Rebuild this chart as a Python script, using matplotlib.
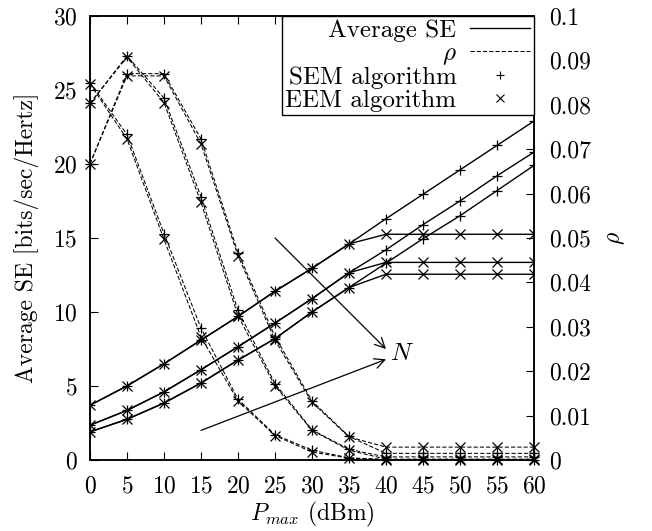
"""
Average SE and rho versus P_max for the SEM and EEM algorithms,
three network sizes N, gnuplot/LaTeX look.
"""

import matplotlib
matplotlib.use("Agg")
import matplotlib.pyplot as plt
from matplotlib.lines import Line2D
from matplotlib.ticker import FuncFormatter

# -----------------------------------------------------------------------------
# 1. DATA
# -----------------------------------------------------------------------------
p_max = [0, 5, 10, 15, 20, 25, 30, 35, 40, 45, 50, 55, 60]

# average SE [bits/sec/Hertz], three values of N
se_sem_n1 = [3.7, 5.0, 6.5, 8.1, 9.7, 11.4, 12.95, 14.6, 16.3, 17.95, 19.6, 21.25, 22.9]
se_eem_n1 = [3.7, 5.0, 6.5, 8.1, 9.7, 11.4, 12.95, 14.6, 15.25, 15.25, 15.25, 15.25, 15.25]
se_sem_n2 = [2.35, 3.35, 4.6, 6.1, 7.65, 9.25, 10.9, 12.65, 14.2, 15.9, 17.5, 19.2, 20.8]
se_eem_n2 = [2.35, 3.35, 4.6, 6.1, 7.65, 9.25, 10.9, 12.65, 13.35, 13.35, 13.35, 13.35, 13.35]
se_sem_n3 = [1.9, 2.75, 3.85, 5.2, 6.75, 8.2, 10.0, 11.65, 13.3, 14.95, 16.5, 18.2, 19.9]
se_eem_n3 = [1.9, 2.75, 3.85, 5.2, 6.75, 8.2, 10.0, 11.65, 12.55, 12.55, 12.55, 12.55, 12.55]

# rho (right axis)
rho_sem_a = [0.0850, 0.0733, 0.0510, 0.0297, 0.0137, 0.0057, 0.0022, 0.0005, 0.0001, 0.0001, 0.0001, 0.0001, 0.0001]
rho_eem_a = [0.0847, 0.0723, 0.0497, 0.0277, 0.0133, 0.0055, 0.0018, 0.0004, 0.0001, 0.0001, 0.0001, 0.0001, 0.0001]
rho_sem_b = [0.0803, 0.0910, 0.0815, 0.0593, 0.0337, 0.0172, 0.0068, 0.0024, 0.0007, 0.0007, 0.0007, 0.0007, 0.0007]
rho_eem_b = [0.0803, 0.0907, 0.0805, 0.0580, 0.0325, 0.0167, 0.0067, 0.0022, 0.0002, 0.0002, 0.0002, 0.0002, 0.0002]
rho_sem_c = [0.0667, 0.0870, 0.0870, 0.0723, 0.0467, 0.0278, 0.0133, 0.0053, 0.0015, 0.0015, 0.0015, 0.0015, 0.0015]
rho_eem_c = [0.0667, 0.0865, 0.0865, 0.0712, 0.0460, 0.0270, 0.0130, 0.0052, 0.0029, 0.0029, 0.0029, 0.0029, 0.0029]

x_ticks = list(range(0, 61, 5))
se_ticks = list(range(0, 31, 5))
rho_ticks = [0, 0.01, 0.02, 0.03, 0.04, 0.05, 0.06, 0.07, 0.08, 0.09, 0.1]

legend_labels = ["Average SE", r"$\rho$", "SEM algorithm", "EEM algorithm"]

# annotation arrows pointing to the "N" label
arrow_tip_upper = (40.0, 7.5)
arrow_tail_upper = (25.0, 15.0)
arrow_tip_lower = (40.0, 6.8)
arrow_tail_lower = (15.0, 2.0)
n_label_pos = (40.6, 7.15)

# -----------------------------------------------------------------------------
# 2. STYLE
# -----------------------------------------------------------------------------
plt.rcParams["font.family"] = "serif"
plt.rcParams["font.serif"] = ["cmr10", "DejaVu Serif"]
plt.rcParams["mathtext.fontset"] = "cm"
plt.rcParams["axes.formatter.use_mathtext"] = True
plt.rcParams["font.size"] = 17

SOLID = dict(color="black", linestyle="-", linewidth=1.0, markersize=7,
             markeredgewidth=0.9)
DASHED = dict(color="black", linestyle=(0, (4, 2)), linewidth=0.75,
              markersize=7, markeredgewidth=0.9)


def plot_chart(output_file="out.png"):
    fig = plt.figure(figsize=(6.52, 5.31), dpi=100)
    ax = fig.add_axes([0.138, 0.1337, 0.681, 0.8363])
    ax2 = ax.twinx()

    # SE curves
    for sem, eem in [(se_sem_n1, se_eem_n1), (se_sem_n2, se_eem_n2),
                     (se_sem_n3, se_eem_n3)]:
        ax.plot(p_max, sem, marker="+", **SOLID)
        ax.plot(p_max, eem, marker="x", **SOLID)

    # rho curves
    for sem, eem in [(rho_sem_a, rho_eem_a), (rho_sem_b, rho_eem_b),
                     (rho_sem_c, rho_eem_c)]:
        ax2.plot(p_max, sem, marker="+", clip_on=False, **DASHED)
        ax2.plot(p_max, eem, marker="x", clip_on=False, **DASHED)

    ax.set_xlim(0, 60)
    ax.set_ylim(0, 30)
    ax2.set_ylim(0, 0.1)
    ax.set_xticks(x_ticks)
    ax.set_yticks(se_ticks)
    ax2.set_yticks(rho_ticks)
    ax2.yaxis.set_major_formatter(FuncFormatter(lambda v, _: f"{v:g}"))

    ax.tick_params(axis="x", direction="in", length=6, width=0.8,
                   top=True, pad=11)
    ax.tick_params(axis="y", direction="in", length=6, width=0.8,
                   right=False, pad=9)
    ax2.tick_params(axis="y", direction="in", length=6, width=0.8, pad=11)
    for a in (ax, ax2):
        for sp in a.spines.values():
            sp.set_linewidth(1.1)

    ax.set_xlabel(r"$P_{max}$ (dBm)", labelpad=2)
    ax.set_ylabel("Average SE [bits/sec/Hertz]", labelpad=10)
    ax2.set_ylabel(r"$\rho$", labelpad=10)

    # arrows and N
    arrow = dict(arrowstyle="->", color="black", lw=0.9, mutation_scale=18,
                 shrinkA=0, shrinkB=0)
    ax.annotate("", xy=arrow_tip_upper, xytext=arrow_tail_upper,
                arrowprops=arrow)
    ax.annotate("", xy=arrow_tip_lower, xytext=arrow_tail_lower,
                arrowprops=arrow)
    ax.text(*n_label_pos, r"$N$", fontsize=18, ha="left", va="center")

    # gnuplot style key: text right aligned, sample on the right
    handles = [
        Line2D([], [], color="black", linestyle="-", linewidth=1.0),
        Line2D([], [], color="black", linestyle=(0, (4, 2)), linewidth=0.75),
        Line2D([], [], color="black", linestyle="none", marker="+",
               markersize=6, markeredgewidth=0.8),
        Line2D([], [], color="black", linestyle="none", marker="x",
               markersize=6, markeredgewidth=0.8),
    ]
    leg = ax2.legend(handles, legend_labels, loc="upper right",
                     markerfirst=False, fancybox=False, edgecolor="black",
                     framealpha=1, borderaxespad=0, handlelength=2.4,
                     handletextpad=0.55, labelspacing=0.0, borderpad=0.15,
                     prop={"size": 18})
    leg.get_frame().set_linewidth(1.0)

    fig.savefig(output_file, dpi=100)
    plt.close(fig)


if __name__ == "__main__":
    plot_chart()
